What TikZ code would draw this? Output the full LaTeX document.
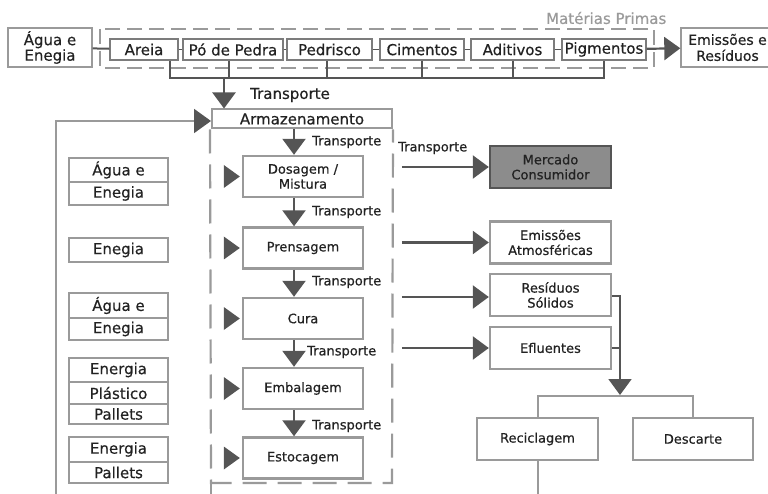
\documentclass[tikz,border=0pt]{standalone}
\usepackage{fontspec}
\setmainfont{DejaVu Sans}[FakeBold=0.5]
\usetikzlibrary{arrows.meta,calc}
\definecolor{dk}{HTML}{555555}
\definecolor{gb}{HTML}{9A9A9A}
\definecolor{gt}{HTML}{7C7C7C}
\definecolor{mf}{HTML}{8C8C8C}
\definecolor{tx}{HTML}{222222}
\newcommand\fbig{\fontsize{15}{13}\selectfont}
\newcommand\fsm{\fontsize{13}{15}\selectfont}
\newcommand\fem{\fontsize{14}{16}\selectfont}
\begin{document}
\begin{tikzpicture}[x=1pt,y=-1pt,text=tx,
  topbox/.style={draw=gt,line width=1.4pt,fill=white,inner sep=0pt,minimum height=21pt,font=\fbig},
  procbox/.style={draw=gb,line width=2.4pt,fill=white,inner sep=0pt,minimum width=120pt,minimum height=41pt,align=center,font=\fsm},
  outbox/.style={procbox,minimum width=121pt,minimum height=42pt},
  inbox/.style={draw=gb,line width=1.4pt,inner sep=0pt,minimum width=99pt,font=\fbig},
  lbl/.style={font=\fbig,anchor=west,inner sep=0pt},
  slbl/.style={font=\fsm,anchor=west,inner sep=0pt},
  arr/.style={draw=dk,line width=2.2pt,-{Triangle[length=16pt,width=23pt]}},
  dline/.style={draw=dk,line width=2pt},
  tline/.style={draw=dk,line width=1.2pt},
  gline/.style={draw=gb,line width=2pt},
]
\useasboundingbox (0,0) rectangle (768,494);
\clip (0,0) rectangle (768,494);

% ---------- raw materials row ----------
\draw[gb,line width=2pt,dash pattern=on 15pt off 7pt] (100,29) rectangle (654,68);
\node[lbl,text=gb] (mp) at (546,18) {Matérias Primas};
\node[topbox,draw=gb,minimum width=84pt,minimum height=39pt,align=center] (agua) at (50,47.5) {Água e\\Enegia};
\node[topbox,minimum width=68pt] (areia) at (144,49.5) {Areia};
\node[topbox,minimum width=100pt] (pedra) at (233,49.5) {Pó de Pedra};
\node[topbox,minimum width=85pt] (pedrisco) at (329.5,49.5) {Pedrisco};
\node[topbox,minimum width=84pt] (cim) at (422,49.5) {Cimentos};
\node[topbox,minimum width=83pt] (adit) at (512.5,49.5) {Aditivos};
\node[topbox,minimum width=84pt] (pig) at (604,49.5) {Pigmentos};
\node[topbox,draw=gb,minimum width=93pt,minimum height=39pt,align=center,font=\fem] (emis) at (727.5,47.5) {Emissões e\\Resíduos};

\draw[dline] (agua) -- (areia);
\draw[tline] (areia) -- (pedra);
\draw[tline] (pedra) -- (pedrisco);
\draw[tline] (pedrisco) -- (cim);
\draw[tline] (cim) -- (adit);
\draw[tline] (adit) -- (pig);
\draw[arr] (pig) -- (emis);

\coordinate (busa) at (224,77);
\draw[dline] ($(areia.south)+(26,0)$) |- ($(pig.south)+(0,17.5)$) -- (pig.south);
\draw[dline] ($(pedra.south)+(-4,0)$) -- ++(0,17.5);
\draw[dline] ($(pedrisco.south)+(-2.5,0)$) -- ++(0,17.5);
\draw[dline] (cim.south) -- ++(0,17.5);
\draw[dline] (adit.south) -- ++(0,17.5);

% ---------- storage ----------
\node[draw=gb,line width=2pt,fill=white,inner sep=0pt,minimum width=180pt,minimum height=19pt,font=\fbig] (armaz) at (302,119) {Armazenamento};
\draw[arr] (busa) -- (busa |- armaz.north);
\node[lbl] (t0) at (250,95) {Transporte};

% feedback line
\coordinate (fb) at (56,500);
\draw[gline,-{Triangle[length=17pt,width=24pt,color=dk]}] (fb) |- ($(armaz.west)+(0,2)$);

% process dashed frame
\coordinate (pbl) at (211,483);
\coordinate (pbr) at (392,483);
\draw[gb,line width=2.2pt,dash pattern=on 24pt off 11pt] ($(armaz.south west)+(-1,0)$) -- (pbl) -- (pbr) -- (armaz.south east);
\draw[gb,line width=2.2pt] (pbl) -- (211,500);

% ---------- process ----------
\node[procbox] (dos) at (303,176.5) {Dosagem /\\Mistura};
\node[procbox] (pren) at (303,248) {Prensagem};
\node[procbox] (cura) at (303,318.5) {Cura};
\node[procbox] (emb) at (303,388.5) {Embalagem};
\node[procbox] (est) at (303,458) {Estocagem};

\draw[arr] ($(armaz.south)+(-8,0)$) -- ($(dos.north)+(-9,0)$);
\draw[arr] ($(dos.south)+(-9,0)$) -- ($(pren.north)+(-9,0)$);
\draw[arr] ($(pren.south)+(-9,0)$) -- ($(cura.north)+(-9,0)$);
\draw[arr] ($(cura.south)+(-9,0)$) -- ($(emb.north)+(-9,0)$);
\draw[arr] ($(emb.south)+(-9,0)$) -- ($(est.north)+(-9,0)$);

\node[slbl] (t1) at (312,142) {Transporte};
\node[slbl] (t2) at (312,212) {Transporte};
\node[slbl] (t3) at (312,282) {Transporte};
\node[slbl] (t4) at (307,352) {Transporte};
\node[slbl] (t5) at (312,426) {Transporte};

\foreach \b in {dos,pren,cura,emb,est}
  \fill[dk] ($(\b.west)+(-2,0)$) -- ++(-16,-11.5) -- ++(0,23) -- cycle;

% ---------- inputs ----------
\node[inbox,minimum height=24pt] (i1a) at (118.5,170) {Água e};
\node[inbox,minimum height=23pt] (i1b) at (118.5,193.5) {Enegia};
\node[inbox,minimum height=24pt] (i2) at (118.5,250) {Enegia};
\node[inbox,minimum height=25pt] (i3a) at (118.5,305.5) {Água e};
\node[inbox,minimum height=22pt] (i3b) at (118.5,329) {Enegia};
\node[inbox,minimum height=24pt] (i4a) at (118.5,370) {Energia};
\node[inbox,minimum height=22pt] (i4b) at (118.5,393) {Plástico};
\node[inbox,minimum height=20pt] (i4c) at (118.5,414) {Pallets};
\node[inbox,minimum height=25pt] (i5a) at (118.5,449.5) {Energia};
\node[inbox,minimum height=21pt] (i5b) at (118.5,472.5) {Pallets};

% ---------- outputs ----------
\node[outbox,fill=mf,draw=dk] (merc) at (550.5,167) {Mercado\\Consumidor};
\node[outbox] (emat) at (550.5,242.5) {Emissões\\Atmosféricas};
\node[outbox] (res) at (550.5,295) {Resíduos\\Sólidos};
\node[outbox] (eflu) at (550.5,348) {Efluentes};

\node[slbl] (tm) at (398,148) {Transporte};
\draw[arr] ($(merc.west)+(-87,0)$) -- (merc.west);
\draw[arr] ($(emat.west)+(-87,0)$) -- (emat.west);
\draw[arr] ($(res.west)+(-87,2)$) -- ($(res.west)+(0,2)$);
\draw[arr] ($(eflu.west)+(-87,0)$) -- (eflu.west);

\coordinate (jt) at (620,395);
\coordinate (hb) at (620,396);
\draw[arr,line width=2pt] ($(res.east)+(0,1)$) -| (jt);
\draw[dline] (eflu.east) -- (eflu.east -| jt);

\node[outbox] (recic) at (537.5,439) {Reciclagem};
\node[outbox,minimum width=120pt] (desc) at (693,439) {Descarte};
\draw[gline] (recic.north) |- (hb) -| (desc.north);
\draw[gline] (recic.south) -- ++(0,40);
\end{tikzpicture}
\end{document}
